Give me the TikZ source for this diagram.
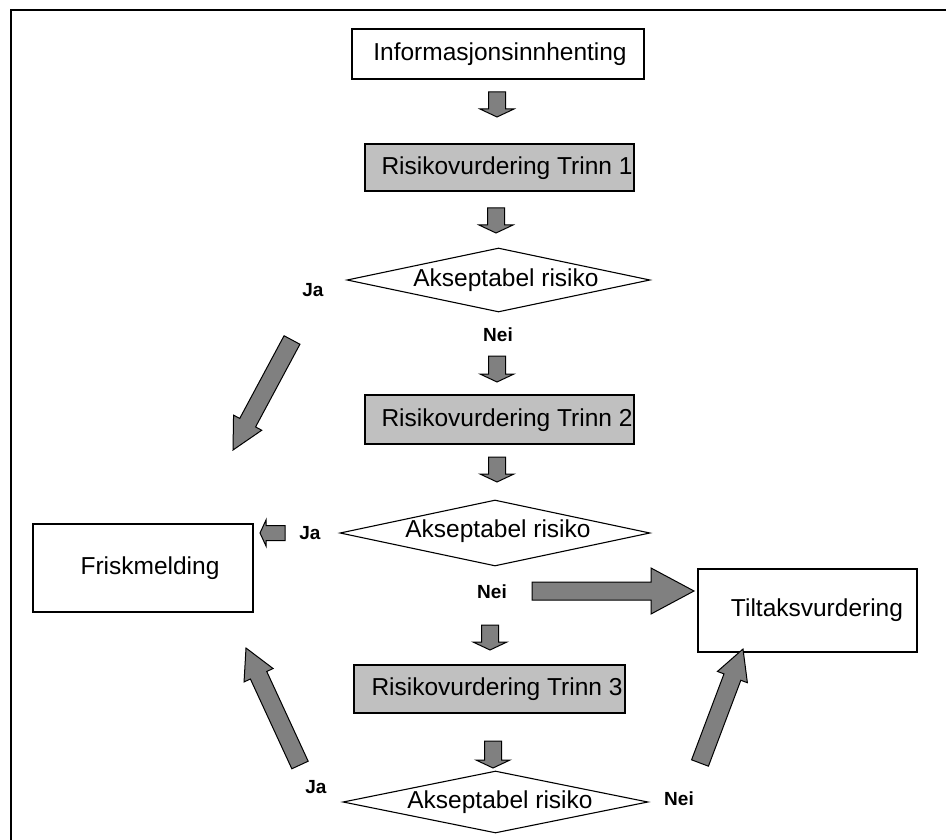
\documentclass[tikz,border=0pt]{standalone}
\usepackage{fontspec}
\setmainfont{Liberation Sans}
\usetikzlibrary{calc,shapes.geometric}
\definecolor{boxgray}{HTML}{C0C0C0}
\definecolor{arrgray}{HTML}{808080}
% block arrow from #1 to #2, half shaft #3, half head #4, head length #5
\newcommand\blockarrow[5]{%
  \coordinate (ba-n) at ($(#2)!#5!(#1)$);
  \filldraw[blockarr] ($(#1)!#3!90:(#2)$) -- ($(ba-n)!#3!-90:(#1)$) -- ($(ba-n)!#4!-90:(#1)$) -- (#2)
    -- ($(ba-n)!#4!90:(#1)$) -- ($(ba-n)!#3!90:(#1)$) -- ($(#1)!#3!-90:(#2)$) -- cycle;}
\begin{document}
\begin{tikzpicture}[x=1pt,y=-1pt,
  font=\fontsize{24.5}{29}\selectfont,
  plainbox/.style={draw, line width=1.5pt, fill=white, inner sep=0pt},
  graybox/.style={plainbox, fill=boxgray},
  dec/.style={draw, diamond, line width=1.1pt, inner sep=0pt, fill=white},
  txt/.style={inner sep=0pt},
  lbl/.style={inner sep=0pt, font=\bfseries\fontsize{19}{22}\selectfont},
  blockarr/.style={fill=arrgray, draw=black, line width=1pt, line join=miter}]
\useasboundingbox (0,0) rectangle (946,840);
\draw[line width=2.5pt] (11,840) -- (11,10) -- (946,10);

% boxes
\node[plainbox, minimum width=292pt, minimum height=50pt] (info) at (498,54) {};
\node[txt] (infot) at (500,54) {Informasjonsinnhenting};

\node[graybox, minimum width=269pt, minimum height=47pt] (r1) at (499.5,167.5) {};
\node[txt] (r1t) at (507,168) {Risikovurdering Trinn 1};

\node[dec, minimum width=303pt, minimum height=64pt] (d1) at (498.5,280) {};
\node[txt] (d1t) at (506,280) {Akseptabel risiko};
\node[lbl] (ja1) at (313,290) {Ja};
\node[lbl] (nei1) at (498,335) {Nei};

\node[graybox, minimum width=269pt, minimum height=49pt] (r2) at (499.5,419.5) {};
\node[txt] (r2t) at (507,420) {Risikovurdering Trinn 2};

\node[dec, minimum width=310pt, minimum height=66pt] (d2) at (495,533) {};
\node[txt] (d2t) at (498,531) {Akseptabel risiko};
\node[lbl] (ja2) at (310,533) {Ja};
\node[lbl] (nei2) at (492,592) {Nei};

\node[plainbox, minimum width=220pt, minimum height=88pt] (frisk) at (143,568) {};
\node[txt] (friskt) at (150,568) {Friskmelding};

\node[plainbox, minimum width=219pt, minimum height=83pt] (tiltak) at (807.5,610.5) {};
\node[txt] (tiltakt) at (817,610) {Tiltaksvurdering};

\node[graybox, minimum width=271pt, minimum height=48pt] (r3) at (489.5,689) {};
\node[txt] (r3t) at (497,689) {Risikovurdering Trinn 3};

\node[dec, minimum width=305pt, minimum height=62pt] (d3) at (495.5,802) {};
\node[txt] (d3t) at (500,802) {Akseptabel risiko};
\node[lbl] (ja3) at (316,787) {Ja};
\node[lbl] (nei3) at (679,799) {Nei};

% arrow end points
\coordinate (a1s) at (497,92);  \coordinate (a1e) at (497,117);
\coordinate (a2s) at (496,208); \coordinate (a2e) at (496,233);
\coordinate (a3s) at (497,356); \coordinate (a3e) at (497,382);
\coordinate (a4s) at (497,457); \coordinate (a4e) at (497,482);
\coordinate (a5s) at (490,625); \coordinate (a5e) at (490,650);
\coordinate (a6s) at (493,741); \coordinate (a6e) at (493,768);
\coordinate (djs) at (292,340); \coordinate (dje) at (233,450);
\coordinate (ljs) at (285,533); \coordinate (lje) at (260,533);
\coordinate (hns) at (532,591); \coordinate (hne) at (694,591);
\coordinate (ujs) at (300,765); \coordinate (uje) at (246,648);
\coordinate (uns) at (700,763); \coordinate (une) at (743,649);

\blockarrow{a1s}{a1e}{8.5pt}{17pt}{8pt}
\blockarrow{a2s}{a2e}{8.5pt}{17pt}{8pt}
\blockarrow{a3s}{a3e}{8.5pt}{17pt}{8pt}
\blockarrow{a4s}{a4e}{8.5pt}{17pt}{8pt}
\blockarrow{a5s}{a5e}{8.5pt}{17pt}{8pt}
\blockarrow{a6s}{a6e}{8.5pt}{17pt}{8pt}
\blockarrow{djs}{dje}{9pt}{16pt}{31pt}
\blockarrow{ljs}{lje}{7.5pt}{13pt}{6pt}
\blockarrow{hns}{hne}{9pt}{23pt}{43pt}
\blockarrow{ujs}{uje}{9pt}{16pt}{30pt}
\blockarrow{uns}{une}{9pt}{16pt}{30pt}
\end{tikzpicture}
\end{document}
